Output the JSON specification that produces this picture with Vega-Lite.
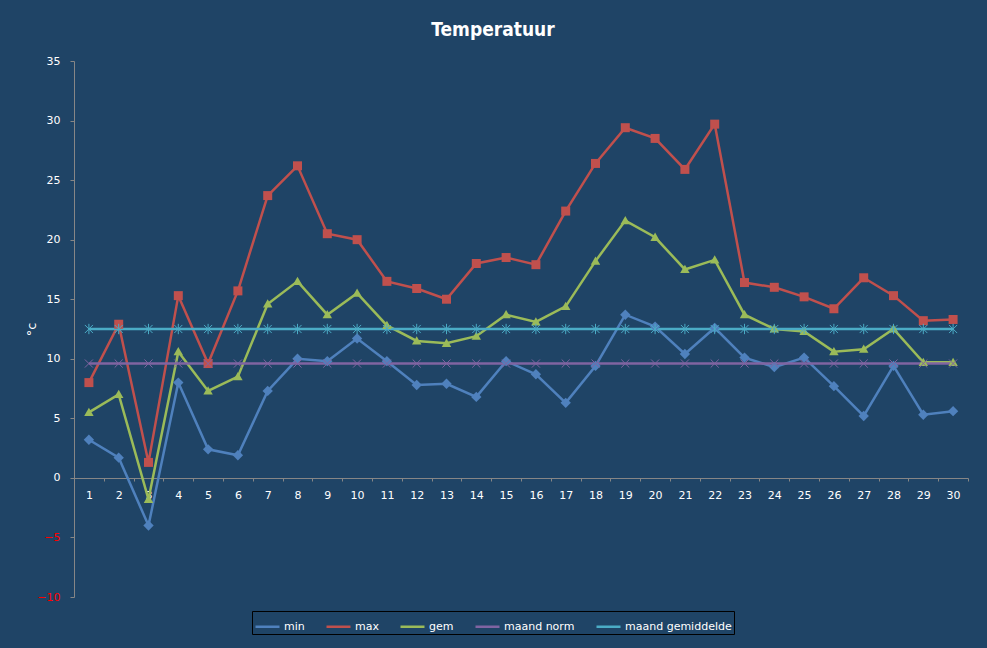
{
  "$schema": "https://vega.github.io/schema/vega-lite/v6.json",
  "description": "Temperatuur per dag",
  "width": 894,
  "height": 536,
  "autosize": "none",
  "padding": {"left": 74, "top": 61, "right": 19, "bottom": 51},
  "background": "#1f4466",
  "title": {
    "text": "Temperatuur",
    "font": "DejaVu Sans Condensed",
    "fontSize": 19,
    "fontWeight": "bold",
    "color": "#ffffff",
    "anchor": "middle",
    "frame": "group",
    "dx": -28,
    "offset": 15
  },
  "config": {
    "view": {"stroke": null},
    "axis": {
      "domainColor": "#868686",
      "tickColor": "#868686",
      "grid": false,
      "labelFont": "DejaVu Sans",
      "labelFontSize": 11,
      "labelColor": "#ffffff",
      "titleFont": "DejaVu Sans",
      "titleColor": "#ffffff"
    }
  },
  "data": {
    "values": [
      {"day": 1, "series": "min", "value": 3.2}, {"day": 2, "series": "min", "value": 1.7}, {"day": 3, "series": "min", "value": -4.0},
      {"day": 4, "series": "min", "value": 8.0}, {"day": 5, "series": "min", "value": 2.4}, {"day": 6, "series": "min", "value": 1.9},
      {"day": 7, "series": "min", "value": 7.3}, {"day": 8, "series": "min", "value": 10.0}, {"day": 9, "series": "min", "value": 9.8},
      {"day": 10, "series": "min", "value": 11.7}, {"day": 11, "series": "min", "value": 9.8}, {"day": 12, "series": "min", "value": 7.8},
      {"day": 13, "series": "min", "value": 7.9}, {"day": 14, "series": "min", "value": 6.8}, {"day": 15, "series": "min", "value": 9.8},
      {"day": 16, "series": "min", "value": 8.7}, {"day": 17, "series": "min", "value": 6.3}, {"day": 18, "series": "min", "value": 9.4},
      {"day": 19, "series": "min", "value": 13.7}, {"day": 20, "series": "min", "value": 12.7}, {"day": 21, "series": "min", "value": 10.4},
      {"day": 22, "series": "min", "value": 12.6}, {"day": 23, "series": "min", "value": 10.1}, {"day": 24, "series": "min", "value": 9.3},
      {"day": 25, "series": "min", "value": 10.1}, {"day": 26, "series": "min", "value": 7.7}, {"day": 27, "series": "min", "value": 5.2},
      {"day": 28, "series": "min", "value": 9.4}, {"day": 29, "series": "min", "value": 5.3}, {"day": 30, "series": "min", "value": 5.6},
      {"day": 1, "series": "max", "value": 8.0}, {"day": 2, "series": "max", "value": 12.9}, {"day": 3, "series": "max", "value": 1.3},
      {"day": 4, "series": "max", "value": 15.3}, {"day": 5, "series": "max", "value": 9.6}, {"day": 6, "series": "max", "value": 15.7},
      {"day": 7, "series": "max", "value": 23.7}, {"day": 8, "series": "max", "value": 26.2}, {"day": 9, "series": "max", "value": 20.5},
      {"day": 10, "series": "max", "value": 20.0}, {"day": 11, "series": "max", "value": 16.5}, {"day": 12, "series": "max", "value": 15.9},
      {"day": 13, "series": "max", "value": 15.0}, {"day": 14, "series": "max", "value": 18.0}, {"day": 15, "series": "max", "value": 18.5},
      {"day": 16, "series": "max", "value": 17.9}, {"day": 17, "series": "max", "value": 22.4}, {"day": 18, "series": "max", "value": 26.4},
      {"day": 19, "series": "max", "value": 29.4}, {"day": 20, "series": "max", "value": 28.5}, {"day": 21, "series": "max", "value": 25.9},
      {"day": 22, "series": "max", "value": 29.7}, {"day": 23, "series": "max", "value": 16.4}, {"day": 24, "series": "max", "value": 16.0},
      {"day": 25, "series": "max", "value": 15.2}, {"day": 26, "series": "max", "value": 14.2}, {"day": 27, "series": "max", "value": 16.8},
      {"day": 28, "series": "max", "value": 15.3}, {"day": 29, "series": "max", "value": 13.2}, {"day": 30, "series": "max", "value": 13.3},
      {"day": 1, "series": "gem", "value": 5.5}, {"day": 2, "series": "gem", "value": 7.0}, {"day": 3, "series": "gem", "value": -1.8},
      {"day": 4, "series": "gem", "value": 10.6}, {"day": 5, "series": "gem", "value": 7.3}, {"day": 6, "series": "gem", "value": 8.5},
      {"day": 7, "series": "gem", "value": 14.6}, {"day": 8, "series": "gem", "value": 16.5}, {"day": 9, "series": "gem", "value": 13.7},
      {"day": 10, "series": "gem", "value": 15.5}, {"day": 11, "series": "gem", "value": 12.8}, {"day": 12, "series": "gem", "value": 11.5},
      {"day": 13, "series": "gem", "value": 11.3}, {"day": 14, "series": "gem", "value": 11.9}, {"day": 15, "series": "gem", "value": 13.7},
      {"day": 16, "series": "gem", "value": 13.1}, {"day": 17, "series": "gem", "value": 14.4}, {"day": 18, "series": "gem", "value": 18.2},
      {"day": 19, "series": "gem", "value": 21.6}, {"day": 20, "series": "gem", "value": 20.2}, {"day": 21, "series": "gem", "value": 17.5},
      {"day": 22, "series": "gem", "value": 18.3}, {"day": 23, "series": "gem", "value": 13.7}, {"day": 24, "series": "gem", "value": 12.5},
      {"day": 25, "series": "gem", "value": 12.3}, {"day": 26, "series": "gem", "value": 10.6}, {"day": 27, "series": "gem", "value": 10.8},
      {"day": 28, "series": "gem", "value": 12.5}, {"day": 29, "series": "gem", "value": 9.7}, {"day": 30, "series": "gem", "value": 9.7},
      {"day": 1, "series": "maand norm", "value": 9.6}, {"day": 2, "series": "maand norm", "value": 9.6}, {"day": 3, "series": "maand norm", "value": 9.6},
      {"day": 4, "series": "maand norm", "value": 9.6}, {"day": 5, "series": "maand norm", "value": 9.6}, {"day": 6, "series": "maand norm", "value": 9.6},
      {"day": 7, "series": "maand norm", "value": 9.6}, {"day": 8, "series": "maand norm", "value": 9.6}, {"day": 9, "series": "maand norm", "value": 9.6},
      {"day": 10, "series": "maand norm", "value": 9.6}, {"day": 11, "series": "maand norm", "value": 9.6}, {"day": 12, "series": "maand norm", "value": 9.6},
      {"day": 13, "series": "maand norm", "value": 9.6}, {"day": 14, "series": "maand norm", "value": 9.6}, {"day": 15, "series": "maand norm", "value": 9.6},
      {"day": 16, "series": "maand norm", "value": 9.6}, {"day": 17, "series": "maand norm", "value": 9.6}, {"day": 18, "series": "maand norm", "value": 9.6},
      {"day": 19, "series": "maand norm", "value": 9.6}, {"day": 20, "series": "maand norm", "value": 9.6}, {"day": 21, "series": "maand norm", "value": 9.6},
      {"day": 22, "series": "maand norm", "value": 9.6}, {"day": 23, "series": "maand norm", "value": 9.6}, {"day": 24, "series": "maand norm", "value": 9.6},
      {"day": 25, "series": "maand norm", "value": 9.6}, {"day": 26, "series": "maand norm", "value": 9.6}, {"day": 27, "series": "maand norm", "value": 9.6},
      {"day": 28, "series": "maand norm", "value": 9.6}, {"day": 29, "series": "maand norm", "value": 9.6}, {"day": 30, "series": "maand norm", "value": 9.6},
      {"day": 1, "series": "maand gemiddelde", "value": 12.5}, {"day": 2, "series": "maand gemiddelde", "value": 12.5}, {"day": 3, "series": "maand gemiddelde", "value": 12.5},
      {"day": 4, "series": "maand gemiddelde", "value": 12.5}, {"day": 5, "series": "maand gemiddelde", "value": 12.5}, {"day": 6, "series": "maand gemiddelde", "value": 12.5},
      {"day": 7, "series": "maand gemiddelde", "value": 12.5}, {"day": 8, "series": "maand gemiddelde", "value": 12.5}, {"day": 9, "series": "maand gemiddelde", "value": 12.5},
      {"day": 10, "series": "maand gemiddelde", "value": 12.5}, {"day": 11, "series": "maand gemiddelde", "value": 12.5}, {"day": 12, "series": "maand gemiddelde", "value": 12.5},
      {"day": 13, "series": "maand gemiddelde", "value": 12.5}, {"day": 14, "series": "maand gemiddelde", "value": 12.5}, {"day": 15, "series": "maand gemiddelde", "value": 12.5},
      {"day": 16, "series": "maand gemiddelde", "value": 12.5}, {"day": 17, "series": "maand gemiddelde", "value": 12.5}, {"day": 18, "series": "maand gemiddelde", "value": 12.5},
      {"day": 19, "series": "maand gemiddelde", "value": 12.5}, {"day": 20, "series": "maand gemiddelde", "value": 12.5}, {"day": 21, "series": "maand gemiddelde", "value": 12.5},
      {"day": 22, "series": "maand gemiddelde", "value": 12.5}, {"day": 23, "series": "maand gemiddelde", "value": 12.5}, {"day": 24, "series": "maand gemiddelde", "value": 12.5},
      {"day": 25, "series": "maand gemiddelde", "value": 12.5}, {"day": 26, "series": "maand gemiddelde", "value": 12.5}, {"day": 27, "series": "maand gemiddelde", "value": 12.5},
      {"day": 28, "series": "maand gemiddelde", "value": 12.5}, {"day": 29, "series": "maand gemiddelde", "value": 12.5}, {"day": 30, "series": "maand gemiddelde", "value": 12.5}
    ]
  },
  "encoding": {
    "x": {
      "field": "day",
      "type": "ordinal",
      "bandPosition": 0.5,
      "scale": {"type": "band", "paddingInner": 0, "paddingOuter": 0},
      "axis": {
        "title": null,
        "labelAngle": 0,
        "offset": -119,
        "tickBand": "extent",
        "tickSize": 3,
        "labelPadding": 8
      }
    },
    "y": {
      "field": "value",
      "type": "quantitative",
      "scale": {"domain": [-10, 35], "nice": false, "zero": false},
      "axis": {
        "title": "°c",
        "titleFontSize": 13,
        "titleFontWeight": "normal",
        "titlePadding": -2,
        "values": [-10, -5, 0, 5, 10, 15, 20, 25, 30, 35],
        "tickSize": 4,
        "labelPadding": 10,
        "labelColor": {"condition": {"test": "datum.value < 0", "value": "#ff0000"}, "value": "#ffffff"}
      }
    },
    "color": {
      "field": "series",
      "type": "nominal",
      "scale": {
        "domain": ["min", "max", "gem", "maand norm", "maand gemiddelde"],
        "range": ["#4f81bd", "#c0504d", "#9bbb59", "#8064a2", "#4bacc6"]
      },
      "legend": {
        "title": null,
        "orient": "none",
        "legendX": 178,
        "legendY": 550,
        "direction": "horizontal",
        "strokeColor": "#000000",
        "padding": 2,
        "symbolType": "stroke",
        "symbolSize": 576,
        "symbolStrokeWidth": 2.5,
        "symbolOpacity": 1,
        "labelOffset": 3,
        "columnPadding": 16,
        "labelFont": "DejaVu Sans",
        "labelFontSize": 11,
        "labelColor": "#ffffff"
      }
    }
  },
  "layer": [
    {
      "mark": {"type": "line", "strokeWidth": 2.5}
    },
    {
      "transform": [{"filter": "datum.series === 'min'"}],
      "mark": {"type": "point", "filled": true, "size": 81, "opacity": 1, "strokeWidth": 0, "shape": "M0,-1.15L1.15,0L0,1.15L-1.15,0Z"}
    },
    {
      "transform": [{"filter": "datum.series === 'max'"}],
      "mark": {"type": "point", "filled": true, "size": 81, "opacity": 1, "strokeWidth": 0, "shape": "M-1,-1H1V1H-1Z"}
    },
    {
      "transform": [{"filter": "datum.series === 'gem'"}],
      "mark": {"type": "point", "filled": true, "size": 81, "opacity": 1, "strokeWidth": 0, "shape": "M0,-1.05L1.05,0.8H-1.05Z"}
    },
    {
      "transform": [{"filter": "datum.series === 'maand norm'"}],
      "mark": {"type": "point", "filled": false, "size": 81, "opacity": 1, "strokeWidth": 1, "shape": "M-0.9,-0.9L0.9,0.9M-0.9,0.9L0.9,-0.9"}
    },
    {
      "transform": [{"filter": "datum.series === 'maand gemiddelde'"}],
      "mark": {"type": "point", "filled": false, "size": 81, "opacity": 1, "strokeWidth": 1, "shape": "M-0.9,-0.9L0.9,0.9M-0.9,0.9L0.9,-0.9M0,-1.15V1.15"}
    }
  ]
}
